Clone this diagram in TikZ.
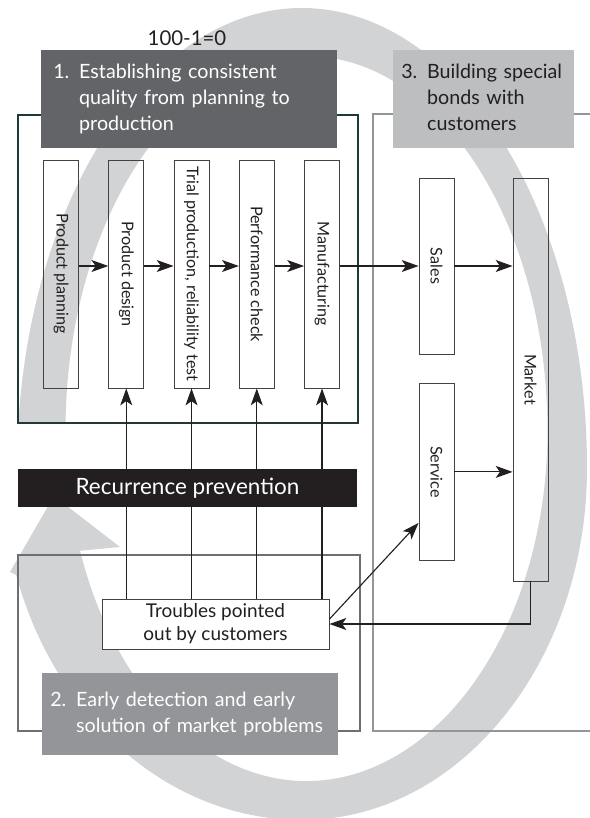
\documentclass[tikz,border=0pt]{standalone}
\usepackage{fontspec}
\setmainfont{Lato}
\usepackage{tikz}
\usetikzlibrary{arrows.meta,positioning}
\definecolor{RingGray}{HTML}{D1D3D4}
\definecolor{TagDark}{HTML}{636467}
\definecolor{TagMid}{HTML}{939598}
\definecolor{TagLight}{HTML}{BCBEC0}
\definecolor{FrameTeal}{HTML}{1D3A38}
\definecolor{FrameGray}{HTML}{6D6E71}
\definecolor{InkBlack}{HTML}{231F20}

\begin{document}
\begin{tikzpicture}[x=0.025cm,y=-0.025cm,
 stage/.style={draw=InkBlack!85,line width=0.6pt,minimum width=0.875cm,inner sep=0pt,
  font=\fontsize{11.5}{14}\selectfont,text=InkBlack},
 tag/.style={anchor=north west,inner xsep=0.3cm,inner ysep=0pt,minimum height=2.45cm,
  align=left,font=\fontsize{14}{18.5}\selectfont},
 arrow/.style={-{Stealth[length=12pt,width=8.5pt,inset=3pt]},draw=InkBlack,line width=0.8pt}]
\useasboundingbox (0,0) rectangle (590,818);
% big loop arrow behind everything
\fill[RingGray] (302,468) ++(185.5:285 and 460)
  arc[start angle=185.5,end angle=360,x radius=285,y radius=460]
  arc[start angle=0,end angle=90,x radius=285,y radius=352]
  arc[start angle=90,end angle=162.3,x radius=300,y radius=352]
  -- (10,572) -- (54,496) -- (120,547) -- (80,550.7)
  arc[start angle=160,end angle=0,x radius=241,y radius=350]
  arc[start angle=360,end angle=181.07,x radius=241,y radius=375] -- cycle;
% frames
\draw[FrameTeal,line width=1.3pt] (18,115) rectangle (358,423);
\draw[FrameGray,line width=1pt] (18,555) rectangle (360,731);
\draw[TagMid,line width=0.9pt] (590,114) -- (373,114) -- (373,731) -- (590,731);
% stages
\node[stage,minimum height=5.7cm] (plan) at (61,274) {\rotatebox{-90}{Product planning}};
\node[stage,minimum height=5.7cm,right=0.735cm of plan] (design) {\rotatebox{-90}{Product design}};
\node[stage,minimum height=5.7cm,right=0.735cm of design] (trial) {\rotatebox{-90}{Trial production, reliability test}};
\node[stage,minimum height=5.7cm,right=0.735cm of trial] (check) {\rotatebox{-90}{Performance check}};
\node[stage,minimum height=5.7cm,right=0.735cm of check] (make) {\rotatebox{-90}{Manufacturing}};
\node[stage,minimum height=4.4cm] (sales) at (436.5,266) {\rotatebox{-90}{Sales}};
\node[stage,minimum height=4.4cm,below=0.725cm of sales] (service) {\rotatebox{-90}{Service}};
\node[stage,minimum height=10.075cm] (market) at (530.5,379.5) {\rotatebox{-90}{Market}};
\node[draw=InkBlack!85,line width=0.6pt,fill=white,minimum width=5.675cm,minimum height=1.25cm,
 align=center,font=\fontsize{13.5}{16.5}\selectfont,text=InkBlack] (trouble) at (215.5,624)
 {Troubles pointed\\out by customers};
% connectors
\foreach \a/\b in {plan/design,design/trial,trial/check,check/make}
 \draw[arrow] (\a.east |- sales) -- (\b.west |- sales);
\draw[arrow] (make.east |- sales) -- (sales.west);
\draw[arrow] (sales.east) -- (sales.east -| market.west);
\draw[arrow] (service.east) -- (service.east -| market.west);
\foreach \s in {design,trial,check,make}
 \draw[arrow] (trouble.north -| \s) -- (\s.south);
\draw[arrow] (market.south) |- (trouble.east);
\draw[arrow] ([yshift=3.5pt]trouble.east) -- ([yshift=-1.275cm]service.west);
\node[fill=InkBlack,text=white,minimum width=8.475cm,minimum height=0.95cm,
 font=\fontsize{16}{19}\selectfont] (recur) at (187.5,488) {Recurrence prevention};
% headings
\node[font=\fontsize{14.5}{16}\selectfont,text=InkBlack] (motto) at (187,38) {100-1=0};
\node[tag,fill=TagDark,text=white,text width=6.8cm] (tag1) at (41,50)
 {\begin{tabular}{@{}l@{ }l@{}}1.&Establishing consistent\\&quality from planning to\\&production\end{tabular}};
\node[tag,fill=TagLight,text=InkBlack,text width=4.125cm,inner xsep=0.2cm] (tag3) at (393,50)
 {\begin{tabular}{@{}l@{ }l@{}}3.&Building special\\&bonds with\\&customers\end{tabular}};
\node[tag,fill=TagMid,text=white,text width=7cm,inner xsep=0.2cm,minimum height=2.05cm] (tag2) at (42,673)
 {\begin{tabular}{@{}l@{ }l@{}}2.&Early detection and early\\&solution of market problems\end{tabular}};
\end{tikzpicture}
\end{document}
